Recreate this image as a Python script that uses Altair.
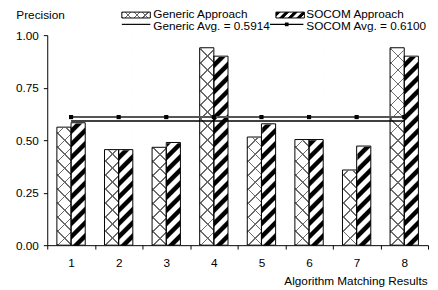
import math
import altair as alt
import pandas as pd

# ---------------- data ----------------
categories = ["1", "2", "3", "4", "5", "6", "7", "8"]
generic = [0.562, 0.455, 0.466, 0.94, 0.515, 0.503, 0.358, 0.94]
socom = [0.583, 0.455, 0.489, 0.90, 0.578, 0.503, 0.472, 0.90]
series_names = ["Generic Approach", "SOCOM Approach"]
avg_names = ["Generic Avg. = 0.5914", "SOCOM Avg. = 0.6100"]
avg_values = [0.5914, 0.6100]
y_ticks = [0, 0.25, 0.5, 0.75, 1.0]
x_title = "Algorithm Matching Results"
y_title = "Precision"

FONT = "Liberation Sans"
W, H = 388, 214
OFF_PAD = 0.68
bar_w = (W / len(categories)) / (2 + 2 * OFF_PAD)

rows = []
for i, c in enumerate(categories):
    rows.append({"cat": c, "series": series_names[0], "value": generic[i]})
    rows.append({"cat": c, "series": series_names[1], "value": socom[i]})
df = pd.DataFrame(rows)

avg_rows = []
for j, n in enumerate(avg_names):
    for c in categories:
        avg_rows.append({"cat": c, "name": n, "avg": avg_values[j]})
avg_df = pd.DataFrame(avg_rows)

one = pd.DataFrame({"k": [0]})


def diag(w, h, period, duty, fg, bg, direction, ramp=0.0):
    """Diagonal stripes as an SVG bbox-unit linear gradient."""
    a, b = 1.0 / h, 1.0 / w
    s = (a + b) / (a * a + b * b)
    if direction == "/":
        x1, y1, x2, y2 = 0, 0, s * a, s * b
    else:
        x1, y1, x2, y2 = 0, 1, s * a, 1 - s * b
    n = max(1, round((w + h) / math.sqrt(2) / period))
    stops = []
    cl = lambda v: min(1.0, max(0.0, v))
    for k in range(n):
        t0 = k / n
        t1 = (k + duty) / n
        r = ramp / n
        stops += [
            alt.GradientStop(offset=cl(t0), color=bg),
            alt.GradientStop(offset=cl(t0 + r), color=fg),
            alt.GradientStop(offset=cl(t1), color=fg),
            alt.GradientStop(offset=cl(t1 + r), color=bg),
        ]
    return alt.LinearGradient(gradient="linear", stops=stops, x1=x1, y1=y1, x2=x2, y2=y2)


TR = "rgba(255,255,255,0)"
LINE_G = "#6a6a6a"
gen_a = diag(bar_w, H, 10.3, 0.12, LINE_G, TR, "/")
gen_b = diag(bar_w, H, 10.3, 0.12, LINE_G, TR, "\\")
soc_g = diag(bar_w, H, 9.4, 0.48, "#000000", "#ffffff", "/", ramp=0.12)

xscale = alt.Scale(domain=categories, paddingInner=0, paddingOuter=0)
yscale = alt.Scale(domain=[0, 1], nice=False, zero=True)
offscale = alt.Scale(domain=series_names, paddingInner=0, paddingOuter=OFF_PAD)

xaxis = alt.Axis(
    title=x_title, labelAngle=0, tickBand="extent", tickSize=4, labelPadding=9,
    titleAlign="right", titleX=387, titleY=40, titleBaseline="alphabetic",
)
yaxis = alt.Axis(
    title=y_title, values=y_ticks, format=".2f", tickSize=4, labelPadding=5, grid=False,
    titleAngle=0, titleAlign="left", titleX=-32, titleY=-17, titleBaseline="alphabetic",
)


def X():
    return alt.X("cat:N", scale=xscale, axis=xaxis, title=x_title)


def Y(field):
    return alt.Y(field, scale=yscale, axis=yaxis, title=y_title)


def xo():
    return alt.XOffset("series:N", scale=offscale)


base = alt.Chart(df)
gen_only = base.transform_filter(alt.datum.series == series_names[0]).transform_calculate(full="1")
soc_only = base.transform_filter(alt.datum.series == series_names[1]).transform_calculate(full="1")

# full-height pattern bars
pat_gen_w = gen_only.mark_bar(fill="#ffffff").encode(x=X(), xOffset=xo(), y=Y("full:Q"))
pat_gen_a = gen_only.mark_bar(fill=gen_a).encode(x=X(), xOffset=xo(), y=Y("full:Q"))
pat_gen_b = gen_only.mark_bar(fill=gen_b).encode(x=X(), xOffset=xo(), y=Y("full:Q"))
pat_soc = soc_only.mark_bar(fill=soc_g).encode(x=X(), xOffset=xo(), y=Y("full:Q"))
# white covers above each value
cover = base.transform_calculate(full="1").mark_bar(fill="#ffffff", stroke="#ffffff", strokeWidth=1.5).encode(
    x=X(), xOffset=xo(), y=Y("value:Q"), y2="full:Q",
)
# outlines
outline = base.mark_bar(fill="transparent", stroke="#000000", strokeWidth=1).encode(
    x=X(), xOffset=xo(), y=Y("value:Q"),
)

avg_base = alt.Chart(avg_df)
gen_line = avg_base.transform_filter(alt.datum.name == avg_names[0]).mark_line(
    color="#000000", strokeWidth=1.5
).encode(x=X(), y=Y("avg:Q"))
soc_line = avg_base.transform_filter(alt.datum.name == avg_names[1]).mark_line(
    color="#555555", strokeWidth=2
).encode(x=X(), y=Y("avg:Q"))
soc_pts = avg_base.transform_filter(alt.datum.name == avg_names[1]).mark_point(
    shape="square", filled=True, size=18, color="#000000", opacity=1
).encode(x=X(), y=Y("avg:Q"))

# ---------------- legend (drawn manually) ----------------
SW_W, SW_H = 29, 6
lg_gen_a = diag(SW_W, SW_H, 7, 0.16, LINE_G, TR, "/")
lg_gen_b = diag(SW_W, SW_H, 7, 0.16, LINE_G, TR, "\\")
lg_soc = diag(SW_W, SW_H, 7, 0.5, "#000000", "#ffffff", "/", ramp=0.1)

ROW1, ROW2 = -17.5, -5.5
legend_layers = []


def sw(x0, fill, stroke=False):
    kw = {"fill": fill}
    if stroke:
        kw.update(stroke="#000000", strokeWidth=1)
    return alt.Chart(one).mark_rect(**kw).encode(
        x=alt.value(x0), x2=alt.value(x0 + SW_W), y=alt.value(-23.5), y2=alt.value(-23.5 + SW_H)
    )


legend_layers += [sw(76, "#ffffff"), sw(76, lg_gen_a), sw(76, lg_gen_b), sw(76, "transparent", True)]
legend_layers += [sw(233, lg_soc), sw(233, "transparent", True)]


def txt(x0, y0, s):
    return alt.Chart(one).mark_text(
        align="left", baseline="alphabetic", fontSize=12, font=FONT, color="#000000"
    ).encode(x=alt.value(x0), y=alt.value(y0), text=alt.value(s))


legend_layers += [
    txt(108, ROW1, series_names[0]),
    txt(264, ROW1, series_names[1]),
    txt(108, ROW2, avg_names[0]),
    txt(264, ROW2, avg_names[1]),
]
legend_layers.append(
    alt.Chart(one).mark_rule(color="#000000", strokeWidth=1.2).encode(
        x=alt.value(76), x2=alt.value(105), y=alt.value(-11)
    )
)
legend_layers.append(
    alt.Chart(one).mark_rule(color="#000000", strokeWidth=1.2).encode(
        x=alt.value(227), x2=alt.value(261), y=alt.value(-11)
    )
)
legend_layers.append(
    alt.Chart(one).mark_point(shape="square", filled=True, size=14, color="#000000", opacity=1).encode(
        x=alt.value(244), y=alt.value(-11)
    )
)

chart = alt.layer(
    pat_gen_w, pat_gen_a, pat_gen_b, pat_soc, cover, outline, gen_line, soc_line, soc_pts, *legend_layers
).properties(
    width=W, height=H,
    padding={"left": 40, "top": 25, "right": 2, "bottom": 43},
    autosize=alt.AutoSizeParams(type="none"),
).configure(
    font=FONT,
).configure_view(
    strokeWidth=0,
).configure_axis(
    labelFont=FONT, titleFont=FONT, labelFontSize=12, titleFontSize=12, titleFontWeight="normal",
    labelColor="#000000", titleColor="#000000", domainColor="#000000", tickColor="#000000",
    domainWidth=1, tickWidth=1,
)

chart.save("out.html", embed_options={"renderer": "svg", "actions": False})
